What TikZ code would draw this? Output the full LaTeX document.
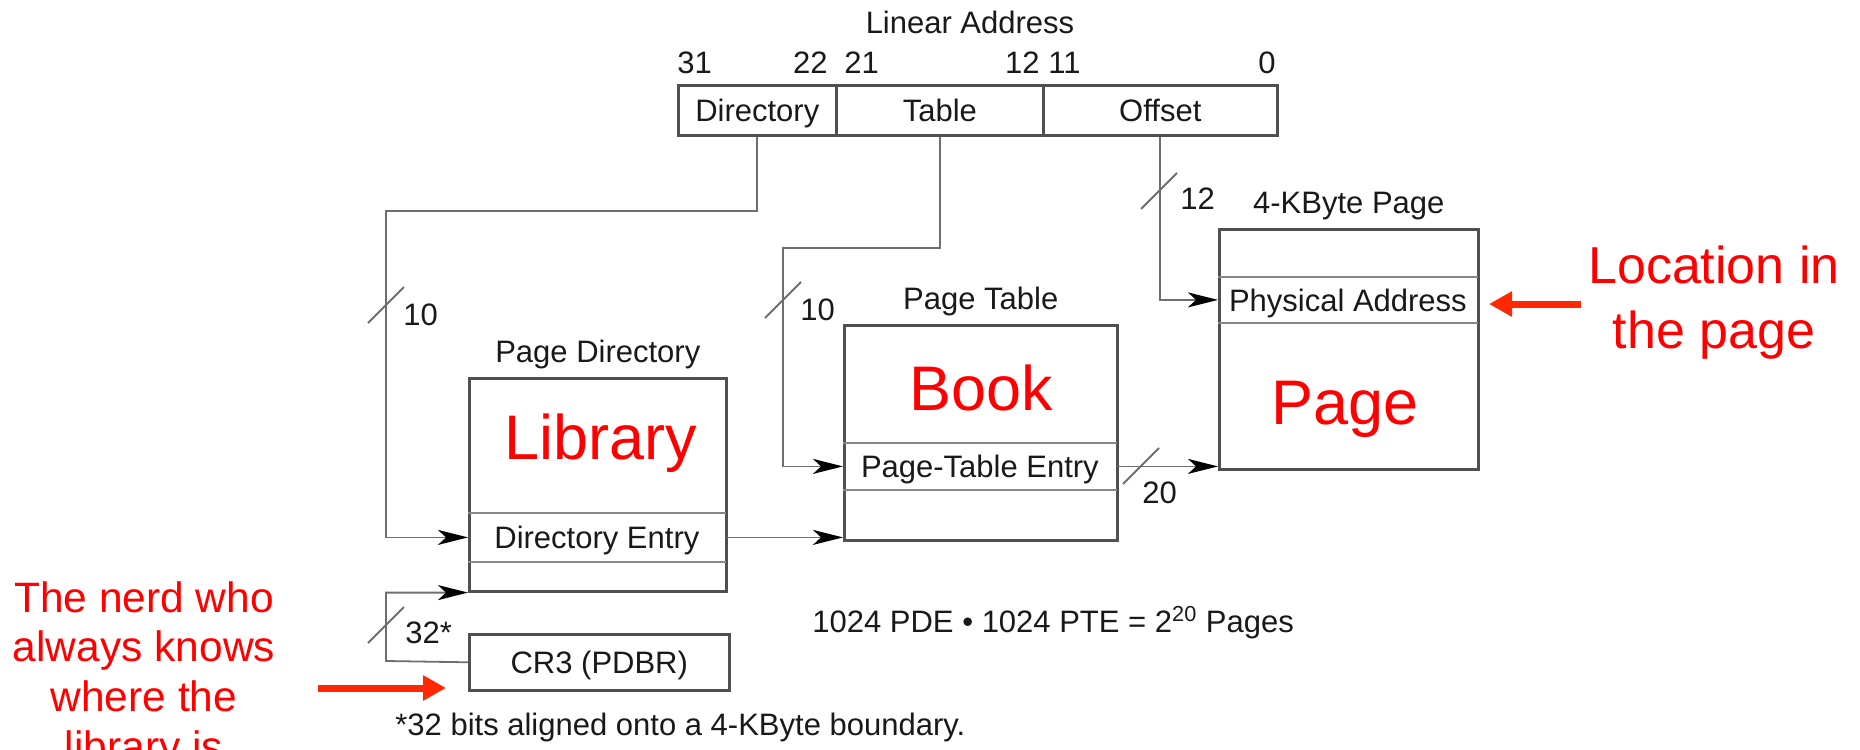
\documentclass[tikz,border=0pt]{standalone}
\usepackage{fontspec}
\setmainfont{Liberation Sans}
\usetikzlibrary{arrows.meta,calc}
\definecolor{boxgray}{RGB}{80,80,80}
\definecolor{rowgray}{RGB}{135,135,135}
\definecolor{linegray}{RGB}{110,110,110}
\definecolor{annred}{RGB}{255,0,0}
\definecolor{arrred}{RGB}{255,40,0}
\begin{document}
\begin{tikzpicture}[x=0.5pt,y=-0.5pt,
  lbl/.style={font=\fontsize{15.5}{18}\selectfont, inner sep=0pt, text=black!90},
  field/.style={draw=boxgray, line width=1.3pt, inner sep=0pt, anchor=north west,
    minimum height=25pt, font=\fontsize{15.5}{18}\selectfont, text=black!90,
    text height=11.1pt, text depth=0pt},
  boxn/.style={draw=boxgray, line width=1.3pt, inner sep=0pt, anchor=north west},
  rown/.style={inner sep=0pt, anchor=north west, font=\fontsize{15.5}{18}\selectfont,
    text=black!90, text height=11.1pt, text depth=0pt},
  rowline/.style={draw=rowgray, line width=1.3pt},
  conn/.style={draw=linegray, line width=0.9pt},
  arr/.style={conn, -{Stealth[length=15pt,width=7.5pt,inset=4pt,color=black]}},
  slash/.style={draw=linegray, line width=0.9pt},
  big/.style={font=\fontsize{31.5}{36}\selectfont, text=annred, inner sep=0pt, anchor=base},
  note/.style={font=\fontsize{26}{31}\selectfont, text=annred, inner sep=0pt, anchor=base},
  nerd/.style={font=\fontsize{21.25}{25}\selectfont, text=annred, inner sep=0pt, anchor=base},
  redarr/.style={draw=arrred, line width=3.5pt, -{Triangle[length=11.5pt,width=12pt]}}
]
\useasboundingbox (0,0) rectangle (1860,750);

% ---- Linear address ----
\node[lbl, anchor=base] (latitle) at (970,33) {Linear Address};
\node[field, minimum width=79pt] (ladir) at (677,84) {Directory};
\node[field, minimum width=103.5pt] (latab) at (835,84) {Table};
\node[field, minimum width=117pt] (laoff) at (1042,84) {Offset};
\node[lbl, anchor=base west] (b31) at (677,73) {31};
\node[lbl, anchor=base east] (b22) at (828,73) {22};
\node[lbl, anchor=base west] (b21) at (844,73) {21};
\node[lbl, anchor=base east] (b12) at (1040,73) {12};
\node[lbl, anchor=base west] (b11) at (1048,73) {11};
\node[lbl, anchor=base east] (b0) at (1276,73) {0};

% ---- Page directory ----
\node[boxn, minimum width=128.5pt, minimum height=106.5pt] (pd) at (468,377) {};
\node[rown, minimum width=128.5pt, minimum height=24pt] (pde) at (468,513) {Directory Entry};
\draw[rowline] (pde.north west) -- (pde.north east);
\draw[rowline] (pde.south west) -- (pde.south east);
\node[lbl, anchor=base] (pdtitle) at ($(pd.north)+(0,-15)$) {Page Directory};
\node[big] (lib) at (601,459) {Library};

% ---- Page table ----
\node[boxn, minimum width=136.5pt, minimum height=107.5pt] (pt) at (843,324) {};
\node[rown, minimum width=136.5pt, minimum height=23pt] (pte) at (843,443) {Page-Table Entry};
\draw[rowline] (pte.north west) -- (pte.north east);
\draw[rowline] (pte.south west) -- (pte.south east);
\node[lbl, anchor=base] (pttitle) at ($(pt.north)+(0,-15)$) {Page Table};
\node[big] (book) at (981,410) {Book};

% ---- 4-KByte page ----
\node[boxn, minimum width=129.5pt, minimum height=120pt] (pg) at (1218,228) {};
\node[rown, minimum width=129.5pt, minimum height=22.5pt] (pa) at (1218,277) {Physical Address};
\draw[rowline] (pa.north west) -- (pa.north east);
\draw[rowline] (pa.south west) -- (pa.south east);
\node[lbl, anchor=base] (pgtitle) at ($(pg.north)+(0,-15)$) {4-KByte Page};
\node[big] (pageword) at (1345,424) {Page};

% ---- CR3 ----
\node[boxn, minimum width=130pt, minimum height=28pt, font=\fontsize{15.5}{18}\selectfont,
  text=black!90, text height=11.1pt, text depth=0pt] (cr3) at (468,633) {CR3 (PDBR)};

% ---- connectors ----
\coordinate (cA) at (386,211);
\coordinate (cB) at (783,248);
\coordinate (cC) at (386,661);
\draw[arr] (ladir.south) |- (cA) |- (pde.west);
\draw[arr] (latab.south) |- (cB) |- (pte.west);
\draw[arr] (laoff.south) |- (pa.west);
\draw[arr] (pde.east) -- (pde.east -| pt.west);
\draw[arr] (pte.east) -- (pte.east -| pg.west);
\draw[arr] (cr3.west) -- (cC) |- (pd.south west);

% ---- slashes and widths ----
\draw[slash] (386,305) ++(-18,18) -- ++(36,-36);
\draw[slash] (783,300) ++(-18,18) -- ++(36,-36);
\draw[slash] (1159,191) ++(-18,18) -- ++(36,-36);
\draw[slash] (1141,466) ++(-18,18) -- ++(36,-36);
\draw[slash] (386,625) ++(-18,18) -- ++(36,-36);
\node[lbl, anchor=base west] (w10a) at (403,325) {10};
\node[lbl, anchor=base west] (w10b) at (800,320) {10};
\node[lbl, anchor=base west] (w12) at (1180,209) {12};
\node[lbl, anchor=base west] (w20) at (1142,503) {20};
\node[lbl, anchor=base west] (w32) at (405,643) {32*};

% ---- notes ----
\node[lbl, anchor=base west] (formula) at (812,632) {1024 PDE • 1024 PTE = 2\textsuperscript{20} Pages};
\node[lbl, anchor=base west] (foot) at (395,735) {*32 bits aligned onto a 4-KByte boundary.};

% ---- red annotations ----
\node[note] (loc1) at (1714,283) {Location in};
\node[note] (loc2) at (1714,348) {the page};
\coordinate (rr1) at (1581,304);
\coordinate (rr2) at (1489,304);
\draw[redarr] (rr1) -- (rr2);

\node[nerd] (n1) at (144,612) {The nerd who};
\node[nerd] (n2) at (144,661) {always knows};
\node[nerd] (n3) at (144,711) {where the};
\node[nerd] (n4) at (144,761) {library is};
\coordinate (rl1) at (318,688);
\coordinate (rl2) at (446,688);
\draw[redarr] (rl1) -- (rl2);
\end{tikzpicture}
\end{document}
